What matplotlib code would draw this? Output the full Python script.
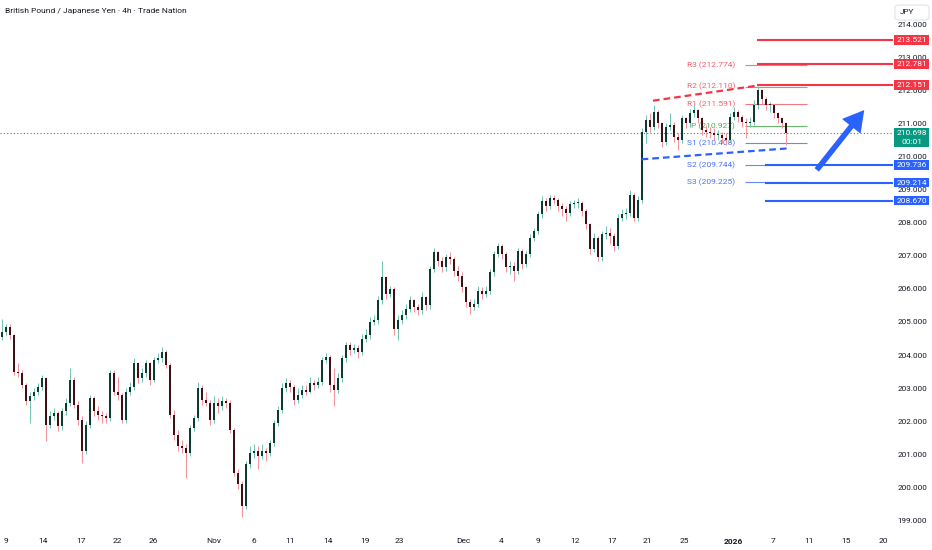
import numpy as np
import matplotlib
matplotlib.use('Agg')
import matplotlib.pyplot as plt
from matplotlib.patches import Rectangle, FancyBboxPatch
from matplotlib.transforms import blended_transform_factory

plt.rcParams['font.family'] = ['Roboto', 'DejaVu Sans']

# GBP/JPY 4h candles (one bar per ~8h of the original)
first_open = 204.55
closes = [
    204.70, 204.85, 204.60, 203.50, 203.45, 203.10, 202.60, 202.75, 202.90, 203.05,
    203.30, 201.90, 202.15, 202.25, 201.85, 202.30, 202.55, 203.25, 202.50, 202.05,
    201.10, 201.90, 202.70, 202.30, 202.20, 202.15, 202.10, 203.45, 202.90, 202.80,
    202.05, 202.90, 203.05, 203.75, 203.30, 203.45, 203.75, 203.25, 203.85, 203.90,
    204.10, 203.70, 202.20, 201.60, 201.25, 201.20, 201.05, 201.80, 202.10, 203.00,
    202.65, 202.55, 202.05, 202.55, 202.45, 202.60, 202.55, 201.75, 200.45, 200.10,
    199.45, 200.70, 201.05, 201.10, 200.95, 201.10, 201.05, 201.35, 201.95, 202.35,
    203.00, 203.15, 203.05, 202.65, 202.80, 202.95, 202.90, 203.15, 203.10, 203.20,
    203.85, 203.95, 203.10, 202.95, 203.30, 203.90, 204.30, 204.15, 204.20, 204.10,
    204.50, 204.60, 205.00, 205.05, 205.65, 206.35, 205.85, 206.00, 204.80, 205.05,
    205.20, 205.40, 205.65, 205.45, 205.35, 205.75, 205.50, 206.60, 207.10, 206.85,
    206.65, 206.95, 206.90, 206.55, 206.40, 206.05, 205.60, 205.45, 205.55, 205.95,
    205.85, 205.95, 206.50, 207.05, 207.30, 207.05, 206.65, 206.70, 206.55, 207.15,
    206.75, 207.05, 207.55, 207.75, 208.25, 208.65, 208.50, 208.75, 208.70, 208.50,
    208.40, 208.30, 208.55, 208.60, 208.60, 208.35, 207.95, 207.20, 207.55, 206.95,
    207.65, 207.70, 207.60, 207.30, 208.15, 208.25, 208.30, 208.85, 208.15, 208.70,
    210.75, 211.10, 210.90, 211.35, 211.00, 210.45, 210.90, 210.95, 210.60, 210.50,
    211.15, 211.00, 211.30, 211.40, 211.15, 210.80, 210.75, 210.70, 210.65, 210.65,
    210.55, 210.50, 211.20, 211.35, 211.20, 211.05, 211.00, 211.05, 211.55, 212.00,
    211.75, 211.55, 211.55, 211.30, 211.15, 211.00, 210.698,
]
highs = [
    205.10, 204.95, 204.95, 204.65, 203.75, 203.55, 203.15, 202.90, 203.00, 203.15,
    203.40, 203.35, 202.30, 202.40, 202.30, 202.40, 202.70, 203.60, 203.35, 202.60,
    202.15, 202.00, 202.80, 202.75, 202.45, 202.30, 202.25, 203.55, 203.55, 203.35,
    202.85, 203.00, 203.20, 203.90, 203.80, 203.60, 203.85, 203.80, 203.95, 204.05,
    204.25, 204.15, 203.75, 202.35, 201.75, 201.45, 201.30, 201.90, 202.20, 203.20,
    203.10, 202.90, 202.65, 202.75, 202.70, 202.75, 202.70, 202.65, 201.80, 200.55,
    200.20, 200.80, 201.25, 201.30, 201.25, 201.30, 201.20, 201.45, 202.05, 202.45,
    203.15, 203.30, 203.25, 203.10, 203.00, 203.10, 203.10, 203.35, 203.25, 203.35,
    203.95, 204.05, 204.00, 203.60, 203.45, 204.00, 204.40, 204.40, 204.35, 204.30,
    204.65, 204.80, 205.15, 205.20, 205.80, 206.85, 206.40, 206.10, 206.05, 205.20,
    205.35, 205.55, 205.80, 205.70, 205.55, 205.90, 205.80, 206.70, 207.25, 207.15,
    206.95, 207.05, 207.10, 206.95, 206.70, 206.50, 206.10, 205.70, 205.70, 206.10,
    206.05, 206.10, 206.60, 207.15, 207.40, 207.35, 207.10, 206.85, 206.80, 207.25,
    207.20, 207.15, 207.65, 207.85, 208.35, 208.80, 208.75, 208.85, 208.85, 208.75,
    208.60, 208.50, 208.65, 208.70, 208.75, 208.65, 208.40, 208.00, 207.70, 207.60,
    207.75, 207.90, 207.85, 207.70, 208.25, 208.40, 208.45, 209.00, 208.90, 208.80,
    210.85, 211.25, 211.30, 211.55, 211.40, 211.05, 211.00, 211.30, 211.05, 210.70,
    211.25, 211.20, 211.45, 211.55, 211.45, 211.20, 210.95, 210.90, 210.85, 210.80,
    210.75, 210.70, 211.30, 211.50, 211.40, 211.25, 211.15, 211.20, 211.70, 212.12,
    212.05, 211.80, 211.65, 211.60, 211.35, 211.20, 211.05,
]
lows = [
    204.45, 204.60, 204.50, 203.40, 203.35, 203.00, 202.50, 201.95, 202.65, 202.80,
    202.95, 201.40, 201.80, 202.05, 201.70, 201.75, 202.20, 202.45, 202.40, 201.90,
    200.75, 201.00, 201.80, 202.15, 202.05, 201.95, 201.95, 202.00, 202.80, 202.65,
    201.95, 201.95, 202.80, 202.95, 203.15, 203.20, 203.35, 203.10, 203.20, 203.75,
    203.80, 203.60, 202.10, 201.45, 201.10, 201.05, 200.30, 200.95, 201.70, 202.00,
    202.50, 202.45, 201.90, 201.95, 202.25, 202.35, 202.40, 201.65, 200.35, 199.95,
    199.10, 199.35, 200.60, 200.90, 200.55, 200.85, 200.80, 200.95, 201.25, 201.85,
    202.25, 202.90, 202.90, 202.50, 202.55, 202.70, 202.80, 202.85, 202.95, 203.00,
    203.10, 203.75, 202.90, 202.45, 202.85, 203.20, 203.80, 204.00, 204.05, 203.90,
    204.00, 204.40, 204.50, 204.90, 204.95, 205.55, 205.70, 205.75, 204.60, 204.45,
    204.95, 205.10, 205.30, 205.30, 205.20, 205.25, 205.35, 205.40, 206.50, 206.70,
    206.50, 206.55, 206.75, 206.40, 206.25, 205.90, 205.45, 205.25, 205.35, 205.45,
    205.70, 205.75, 205.85, 206.40, 206.95, 206.90, 206.50, 206.45, 206.25, 206.45,
    206.60, 206.65, 206.95, 207.45, 207.65, 208.15, 208.35, 208.40, 208.55, 208.35,
    208.20, 208.05, 208.20, 208.45, 208.45, 208.20, 207.80, 207.05, 207.10, 206.85,
    206.85, 207.50, 207.35, 207.15, 207.20, 208.05, 208.10, 208.20, 208.05, 208.05,
    208.60, 210.40, 210.75, 210.80, 210.85, 210.30, 210.35, 210.80, 210.45, 210.20,
    210.40, 210.85, 210.90, 211.20, 211.00, 210.65, 210.60, 210.55, 210.50, 210.50,
    210.40, 210.35, 210.45, 211.10, 211.05, 210.90, 210.55, 210.90, 210.95, 211.45,
    211.60, 211.40, 211.35, 211.15, 211.00, 210.85, 210.35,
]

date_labels = ['9', '14', '17', '22', '26', 'Nov', '6', '11', '14', '19', '23', 'Dec',
               '4', '9', '12', '17', '21', '25', '2026', '7', '11', '15', '20']
date_pos = [1.0, 10.3, 19.75, 28.9, 37.75, 53.0, 63.0, 72.1, 81.6, 90.8, 99.3, 115.3,
            124.8, 134.0, 143.25, 152.4, 161.4, 170.6, 182.75, 192.7, 201.65, 211.1, 220.3]

price_ticks = list(range(199, 215))
last_price = 210.698
red_levels = [213.521, 212.781, 212.151]
blue_levels = [209.736, 209.214, 208.670]
pivot_names = ['R3', 'R2', 'R1', 'P', 'S1', 'S2', 'S3']
pivot_values = [212.774, 212.110, 211.591, 210.927, 210.408, 209.744, 209.225]

RED = '#f23645'
BLUE = '#2962ff'
GREEN = '#089981'
TXT = '#131722'

fig = plt.figure(figsize=(9.32, 5.5), dpi=100)
fig.patch.set_facecolor('white')
ax = fig.add_axes([0, 20 / 550, 893 / 932, 530 / 550])
ax.set_xlim(-0.5, 222.75)
ax.set_ylim(198.716, 214.728)
for s in ax.spines.values():
    s.set_visible(False)

# candles
c = np.array(closes)
o = np.array([first_open] + closes[:-1])
h = np.array(highs)
l = np.array(lows)
x = np.arange(len(c))
up = c >= o
wick_col = np.where(up, '#72c6b3', '#f2939d')
body_col = np.where(up, '#0f3a30', '#3e1117')
ax.vlines(x, l, h, colors=wick_col, lw=0.75, zorder=3)
body_h = np.maximum(np.abs(c - o), 0.03)
ax.bar(x, body_h, bottom=np.minimum(o, c), width=0.62, color=body_col, lw=0, zorder=4)

# current price line
ax.axhline(last_price, color=GREEN, lw=0.8, ls=(0, (1, 2)), zorder=2)

# pivot points
piv_col = {'R': '#f0606b', 'P': '#4caf50', 'S': '#4a72ff'}
for name, val in zip(pivot_names, pivot_values):
    col = piv_col[name[0]]
    ax.hlines(val, 185.75, 201.25, colors=col, lw=0.8, alpha=0.85, zorder=2)
    ax.text(183.3, val, f'{name} ({val:.3f})', color=col, fontsize=6.0,
            ha='right', va='center', zorder=2)

# horizontal key levels
ax.hlines(red_levels, 188.75, 222.75, colors=RED, lw=1.5, zorder=5)
ax.hlines(blue_levels, 190.75, 222.75, colors=BLUE, lw=1.5, zorder=5)

# trend lines
ax.plot([162.75, 188.75], [211.686, 212.14], color=RED, lw=1.6, dashes=(3, 1.8), zorder=5)
ax.plot([159.9, 197.0], [209.915, 210.25], color=BLUE, lw=1.6, dashes=(3, 1.8), zorder=5)

# arrow
ax.annotate('', xy=(216.0, 211.47), xytext=(203.25, 209.53),
            arrowprops=dict(arrowstyle='simple,head_length=0.75,head_width=0.85,tail_width=0.2',
                            color=BLUE, lw=0, mutation_scale=20), zorder=6)

# axes ticks
ax.yaxis.tick_right()
ax.set_yticks(price_ticks)
ax.set_yticklabels([f'{p:.3f}' for p in price_ticks])
ax.tick_params(axis='y', length=0, pad=3, labelsize=5.9, labelcolor=TXT)
ax.set_xticks(date_pos)
ax.set_xticklabels(date_labels)
ax.tick_params(axis='x', length=0, pad=6, labelsize=6.0, labelcolor=TXT)
for lab in ax.get_xticklabels():
    if lab.get_text() == '2026':
        lab.set_fontweight('bold')

# price tags on the right scale
tr = blended_transform_factory(ax.transAxes, ax.transData)
x0, x1 = 894 / 893, 929 / 893
def tag(price, col, text, top=None, bottom=None):
    top = price + 0.15 if top is None else top
    bottom = price - 0.15 if bottom is None else bottom
    ax.add_patch(Rectangle((x0, bottom), x1 - x0, top - bottom, transform=tr,
                           facecolor=col, edgecolor='none', clip_on=False, zorder=10))
    ax.text((x0 + x1) / 2, price, text, transform=tr, color='white', fontsize=6.0,
            ha='center', va='center', clip_on=False, zorder=11)

for p in red_levels:
    tag(p, RED, f'{p:.3f}')
for p in blue_levels:
    tag(p, BLUE, f'{p:.3f}')
tag(last_price, GREEN, f'{last_price:.3f}', top=210.86, bottom=210.29)
ax.text((x0 + x1) / 2, 210.44, '00:01', transform=tr, color='white', fontsize=6.0,
        ha='center', va='center', clip_on=False, zorder=11)

# currency box
fig.patches.append(FancyBboxPatch((895 / 932, 1 - 20 / 550), 34 / 932, 15 / 550,
                                  boxstyle='round,pad=0,rounding_size=0.005',
                                  transform=fig.transFigure, facecolor='white',
                                  edgecolor='#e0e3eb', lw=0.8, zorder=20))
fig.text(907 / 932, 1 - 12 / 550, 'JPY', fontsize=5.9, color=TXT, ha='center', va='center', zorder=21)

fig.text(5 / 932, 1 - 11 / 550, 'British Pound / Japanese Yen · 4h · Trade Nation',
         fontsize=6.0, color=TXT, ha='left', va='center')

fig.savefig('out.png', dpi=100, facecolor='white')
